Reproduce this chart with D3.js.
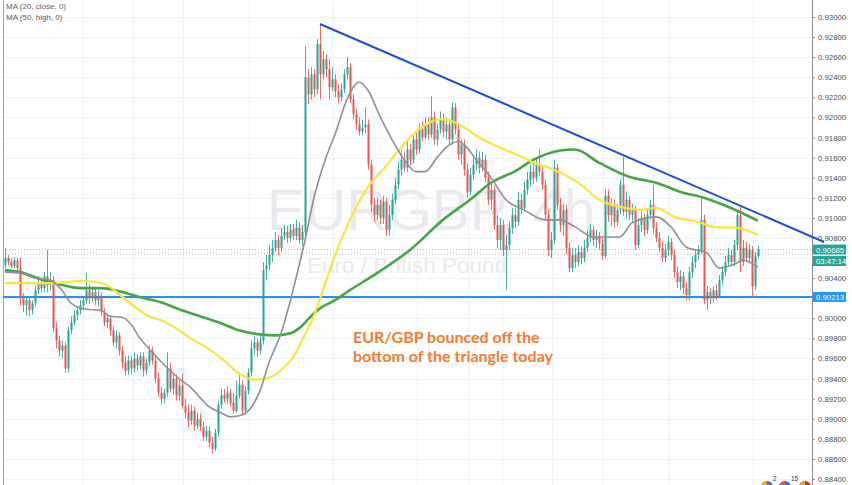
<!DOCTYPE html>
<html><head><meta charset="utf-8">
<script src="https://cdn.jsdelivr.net/npm/d3@7/dist/d3.min.js"></script>
<style>html,body{margin:0;padding:0;background:#fff;overflow:hidden}</style>
</head><body><svg id="c" width="852" height="485"></svg>
<script>
// ---- DATA (EUR/GBP 4h) ----
const opens=[.9053,.9060,.9056,.9052,.9058,.9050,.9020,.9013,.9018,.9008,.9015,.9028,.9036,.9030,.9042,.9033,.9038,.8990,.8978,.8968,.8973,.8950,.8988,.8996,.9003,.9008,.9013,.9018,.9028,.9020,.9026,.9018,.9022,.9006,.8996,.9000,.8988,.8976,.8983,.8968,.8956,.8948,.8958,.8950,.8960,.8953,.8962,.8948,.8956,.8968,.8958,.8940,.8926,.8920,.8926,.8950,.8930,.8940,.8923,.8933,.8913,.8906,.8898,.8908,.8893,.8900,.8892,.8882,.8888,.8876,.8870,.8886,.8914,.8924,.8920,.8926,.8916,.8908,.8923,.8934,.8908,.8928,.8946,.8970,.8976,.8968,.8978,.9048,.9053,.9063,.9070,.9078,.9070,.9082,.9086,.9080,.9088,.9082,.9090,.9078,.9086,.9240,.9223,.9243,.9228,.9273,.9243,.9258,.9248,.9230,.9238,.9226,.9220,.9228,.9243,.9250,.9218,.9203,.9193,.9186,.9190,.9193,.9153,.9113,.9103,.9113,.9100,.9116,.9088,.9103,.9118,.9133,.9148,.9158,.9150,.9168,.9158,.9178,.9168,.9188,.9180,.9193,.9183,.9200,.9178,.9188,.9198,.9186,.9193,.9178,.9210,.9188,.9163,.9173,.9148,.9126,.9143,.9153,.9160,.9150,.9158,.9140,.9118,.9128,.9093,.9078,.9093,.9068,.9073,.9090,.9103,.9096,.9118,.9110,.9128,.9138,.9146,.9140,.9153,.9146,.9133,.9103,.9068,.9078,.9150,.9113,.9093,.9108,.9070,.9050,.9063,.9056,.9066,.9060,.9070,.9080,.9088,.9078,.9082,.9074,.9062,.9122,.9103,.9113,.9096,.9108,.9133,.9106,.9118,.9103,.9108,.9073,.9093,.9100,.9088,.9103,.9113,.9090,.9080,.9070,.9060,.9068,.9076,.9063,.9046,.9036,.9042,.9030,.9023,.9046,.9056,.9063,.9068,.9098,.9018,.9026,.9020,.9028,.9022,.9038,.9046,.9056,.9063,.9056,.9073,.9103,.9056,.9070,.9060,.9068,.9032,.9062];
const highs=[.9070,.9063,.9060,.9061,.9060,.9060,.9025,.9022,.9021,.9018,.9033,.9042,.9040,.9046,.9068,.9046,.9042,.8996,.8983,.8978,.8976,.8992,.9002,.9008,.9012,.9018,.9022,.9045,.9034,.9030,.9031,.9028,.9026,.9010,.9004,.9003,.8992,.8988,.8986,.8972,.8962,.8963,.8962,.8966,.8964,.8966,.8966,.8960,.8973,.8972,.8963,.8946,.8932,.8930,.8966,.8956,.8946,.8944,.8938,.8945,.8920,.8914,.8914,.8912,.8906,.8905,.8897,.8893,.8892,.8882,.8890,.8918,.8930,.8930,.8932,.8930,.8926,.8938,.8946,.8938,.8932,.8950,.8978,.8982,.8980,.8984,.9056,.9063,.9073,.9078,.9086,.9083,.9090,.9093,.9092,.9094,.9094,.9098,.9096,.9093,.9271,.9248,.9250,.9248,.9278,.9293,.9266,.9263,.9258,.9250,.9243,.9233,.9234,.9248,.9260,.9254,.9223,.9208,.9200,.9198,.9210,.9198,.9158,.9120,.9120,.9118,.9122,.9120,.9113,.9124,.9140,.9156,.9168,.9166,.9176,.9174,.9184,.9186,.9194,.9196,.9200,.9200,.9221,.9206,.9194,.9206,.9204,.9200,.9198,.9215,.9214,.9193,.9178,.9178,.9154,.9150,.9160,.9168,.9166,.9166,.9163,.9146,.9134,.9132,.9103,.9100,.9098,.9083,.9096,.9110,.9110,.9126,.9124,.9136,.9146,.9153,.9154,.9160,.9168,.9152,.9138,.9108,.9086,.9158,.9154,.9120,.9114,.9113,.9076,.9070,.9070,.9073,.9072,.9078,.9088,.9094,.9092,.9088,.9086,.9082,.9128,.9128,.9120,.9118,.9114,.9138,.9161,.9126,.9122,.9114,.9112,.9100,.9106,.9104,.9110,.9118,.9133,.9096,.9086,.9076,.9074,.9082,.9080,.9068,.9052,.9048,.9046,.9036,.9051,.9062,.9068,.9073,.9121,.9103,.9032,.9030,.9032,.9034,.9043,.9052,.9062,.9070,.9068,.9078,.9108,.9111,.9078,.9076,.9074,.9072,.9066,.9072];
const lows=[.9050,.9053,.9050,.9050,.9046,.9013,.9006,.9003,.9002,.9004,.9012,.9024,.9026,.9026,.9026,.9028,.8986,.8970,.8962,.8960,.8946,.8946,.8984,.8993,.8998,.9004,.9008,.9014,.9014,.9016,.9013,.9012,.9002,.8992,.8990,.8983,.8972,.8970,.8963,.8950,.8943,.8944,.8944,.8946,.8948,.8949,.8942,.8944,.8952,.8954,.8936,.8922,.8914,.8915,.8922,.8926,.8924,.8918,.8918,.8910,.8900,.8892,.8894,.8888,.8890,.8888,.8878,.8878,.8872,.8865,.8868,.8882,.8910,.8916,.8914,.8912,.8905,.8906,.8920,.8904,.8904,.8924,.8942,.8964,.8962,.8964,.8974,.9038,.9048,.9056,.9066,.9063,.9066,.9078,.9075,.9076,.9078,.9078,.9074,.9072,.9082,.9213,.9218,.9220,.9223,.9218,.9238,.9240,.9218,.9226,.9220,.9214,.9216,.9224,.9238,.9214,.9198,.9188,.9182,.9182,.9184,.9148,.9106,.9096,.9098,.9094,.9094,.9082,.9082,.9098,.9114,.9128,.9142,.9146,.9146,.9152,.9154,.9163,.9164,.9176,.9178,.9178,.9180,.9173,.9172,.9184,.9180,.9178,.9172,.9173,.9183,.9158,.9153,.9142,.9120,.9122,.9138,.9148,.9144,.9146,.9135,.9113,.9108,.9088,.9070,.9068,.9062,.9028,.9068,.9084,.9090,.9092,.9104,.9106,.9123,.9132,.9134,.9136,.9142,.9128,.9098,.9062,.9060,.9074,.9108,.9086,.9082,.9064,.9046,.9046,.9050,.9052,.9054,.9056,.9066,.9076,.9072,.9070,.9068,.9058,.9060,.9096,.9092,.9090,.9092,.9104,.9102,.9100,.9098,.9096,.9068,.9070,.9086,.9082,.9084,.9098,.9084,.9076,.9066,.9056,.9056,.9062,.9058,.9040,.9030,.9028,.9024,.9018,.9018,.9040,.9050,.9058,.9064,.9014,.9008,.9014,.9016,.9018,.9020,.9033,.9042,.9052,.9052,.9052,.9068,.9046,.9052,.9056,.9056,.9021,.9028,.9060];
const closes=[.9060,.9056,.9052,.9058,.9050,.9020,.9013,.9018,.9008,.9015,.9028,.9036,.9030,.9042,.9033,.9038,.8990,.8978,.8968,.8973,.8950,.8988,.8996,.9003,.9008,.9013,.9018,.9028,.9020,.9026,.9018,.9022,.9006,.8996,.9000,.8988,.8976,.8983,.8968,.8956,.8948,.8958,.8950,.8960,.8953,.8962,.8948,.8956,.8968,.8958,.8940,.8926,.8920,.8926,.8950,.8930,.8940,.8923,.8933,.8913,.8906,.8898,.8908,.8893,.8900,.8892,.8882,.8888,.8876,.8870,.8886,.8914,.8924,.8920,.8926,.8916,.8908,.8923,.8934,.8908,.8928,.8946,.8970,.8976,.8968,.8978,.9048,.9053,.9063,.9070,.9078,.9070,.9082,.9086,.9080,.9088,.9082,.9090,.9078,.9086,.9240,.9223,.9243,.9228,.9273,.9243,.9258,.9248,.9230,.9238,.9226,.9220,.9228,.9243,.9250,.9218,.9203,.9193,.9186,.9190,.9193,.9153,.9113,.9103,.9113,.9100,.9116,.9088,.9103,.9118,.9133,.9148,.9158,.9150,.9168,.9158,.9178,.9168,.9188,.9180,.9193,.9183,.9200,.9178,.9188,.9198,.9186,.9193,.9178,.9210,.9188,.9163,.9173,.9148,.9126,.9143,.9153,.9160,.9150,.9158,.9140,.9118,.9128,.9093,.9078,.9093,.9068,.9073,.9090,.9103,.9096,.9118,.9110,.9128,.9138,.9146,.9140,.9153,.9146,.9133,.9103,.9068,.9078,.9150,.9113,.9093,.9108,.9070,.9050,.9063,.9056,.9066,.9060,.9070,.9080,.9088,.9078,.9082,.9074,.9062,.9122,.9103,.9113,.9096,.9108,.9133,.9106,.9118,.9103,.9108,.9073,.9093,.9100,.9088,.9103,.9113,.9090,.9080,.9070,.9060,.9068,.9076,.9063,.9046,.9036,.9042,.9030,.9023,.9046,.9056,.9063,.9068,.9098,.9018,.9026,.9020,.9028,.9022,.9038,.9046,.9056,.9063,.9056,.9073,.9103,.9056,.9070,.9060,.9068,.9032,.9062,.90685];

// moving averages: [bar index, value]
const ma20Close=[[0,.9046],[5,.9045],[10,.9040],[15,.9038],[19,.9028],[22,.9015],[27,.9009],[32,.9008],[35,.9002],[39,.9001],[42,.8994],[45,.8980],[48,.8970],[51,.8960],[55,.8948],[58,.8940],[62,.8931],[65,.8921],[68,.8912],[72,.8906],[75,.8902],[78,.8903],[82,.8911],[85,.8928],[88,.8956],[92,.8985],[96,.9028],[100,.9078],[103,.9120],[107,.9160],[110,.9183],[114,.9218],[118,.9235],[121,.9227],[125,.9201],[129,.9178],[133,.9158],[137,.9146],[140,.9146],[144,.9160],[147,.9170],[151,.9176],[154,.9170],[157,.9158],[162,.9140],[167,.9118],[173,.9108],[180,.9098],[185,.9098],[190,.9091],[196,.9081],[205,.9081],[209,.9095],[217,.9101],[222,.9091],[227,.9071],[234,.9065],[238,.9050],[244,.9055],[246,.9058],[248,.9056],[251,.9051]];
const ma50High=[[0,.9035],[8,.9035],[15,.9035],[25,.9037],[32,.9035],[35,.9031],[38,.9024],[43,.9012],[48,.9002],[52,.8998],[57,.8990],[63,.8978],[66,.8973],[73,.8958],[78,.8945],[83,.8939],[87,.8940],[93,.8951],[96,.8961],[99,.8978],[103,.9003],[106,.9028],[110,.9063],[115,.9098],[122,.9135],[126,.9148],[132,.9170],[138,.9188],[145,.9198],[148,.9197],[152,.9192],[158,.9180],[165,.9170],[172,.9161],[178,.9153],[183,.9148],[192,.9133],[198,.9118],[205,.9111],[212,.9108],[217,.9110],[223,.9101],[231,.9096],[236,.9091],[244,.9090],[251,.9083]];
const ma100=[[0,.9048],[5,.9046],[12,.9039],[18,.9034],[25,.9030],[32,.9030],[38,.9027],[45,.9021],[52,.9016],[58,.9009],[65,.9002],[72,.8995],[78,.8988],[85,.8984],[90,.8983],[95,.8985],[98,.8990],[102,.9002],[105,.9010],[110,.9018],[115,.9028],[124,.9045],[135,.9068],[146,.9098],[155,.9118],[162,.9135],[171,.9148],[175,.9156],[180,.9163],[185,.9167],[190,.9168],[198,.9155],[208,.9141],[217,.9135],[225,.9126],[233,.9120],[241,.9111],[251,.9097]];

const trendLine=[[105,.9293],[273,.9076]];
const supportLevel=.90213;
const lastPrice=.90685;
const prevClose=.9064;
const countdown="03:47:14";
const priceTicks=[.884,.886,.888,.890,.892,.894,.896,.898,.900,.902,.904,.906,.908,.910,.912,.914,.916,.918,.920,.922,.924,.926,.928,.930];
const gridBars=[26,42.7,59.3,81.3,109.3,137.3,154.3,165.7,182.3,199.3,221.3,249.3];
const legendLines=["MA (20, close, 0)","MA (50, high, 0)"];
const symbolText="EURGBP, 4h";
const descText="Euro / British Pound";
const noteLines=["EUR/GBP bounced off the","bottom of the triangle today"];

// ---- DRAW ----
const W=852,H=485,axisX=812;
const svg=d3.select('#c');
const x=d3.scaleLinear().domain([0,251]).range([5,758]);
const y=d3.scaleLinear().domain([0.884,0.930]).range([479,17]);
const up='#26a69a',down='#ef5350';

// grid
const g=svg.append('g');
g.selectAll('line.h').data(priceTicks).join('line')
 .attr('x1',3).attr('x2',axisX).attr('y1',d=>Math.round(y(d))+.5).attr('y2',d=>Math.round(y(d))+.5)
 .attr('stroke','#eef1f6').attr('stroke-width',1);
g.selectAll('line.v').data(gridBars).join('line')
 .attr('x1',d=>Math.round(x(d))+.5).attr('x2',d=>Math.round(x(d))+.5).attr('y1',0).attr('y2',H)
 .attr('stroke','#eef1f6').attr('stroke-width',1);

// watermark
svg.append('text').attr('x',267).attr('y',230).text(symbolText)
 .attr('font-family','Liberation Sans, Arial, sans-serif').attr('font-size',57).attr('fill','#e9eaed');
svg.append('text').attr('x',407).attr('y',273).attr('text-anchor','middle').text(descText)
 .attr('font-family','Liberation Sans, Arial, sans-serif').attr('font-size',22.5).attr('fill','#e9eaed');

// left border
svg.append('line').attr('x1',3.5).attr('x2',3.5).attr('y1',0).attr('y2',H).attr('stroke','#a3a6ae').attr('stroke-width',1);

// dotted price lines
svg.append('line').attr('x1',3).attr('x2',axisX).attr('y1',y(lastPrice)).attr('y2',y(lastPrice))
 .attr('stroke','#7fc8c0').attr('stroke-dasharray','1,2').attr('stroke-width',1);
svg.append('line').attr('x1',3).attr('x2',axisX).attr('y1',y(prevClose)).attr('y2',y(prevClose))
 .attr('stroke','#b5b8bf').attr('stroke-dasharray','1,2').attr('stroke-width',1);

// support line
svg.append('line').attr('x1',3).attr('x2',axisX).attr('y1',y(supportLevel)).attr('y2',y(supportLevel))
 .attr('stroke','#2a8ff0').attr('stroke-width',2);

// candles
const idx=d3.range(opens.length);
const cg=svg.append('g');
cg.selectAll('line').data(idx).join('line')
 .attr('x1',i=>Math.round(x(i))+.5).attr('x2',i=>Math.round(x(i))+.5)
 .attr('y1',i=>y(highs[i])).attr('y2',i=>y(lows[i]))
 .attr('stroke',i=>closes[i]>=opens[i]?up:down).attr('stroke-width',1).attr('opacity',.85);
cg.selectAll('rect').data(idx).join('rect')
 .attr('x',i=>Math.round(x(i))-0.5).attr('width',2)
 .attr('y',i=>y(Math.max(opens[i],closes[i])))
 .attr('height',i=>Math.max(1,Math.abs(y(opens[i])-y(closes[i]))))
 .attr('fill',i=>closes[i]>=opens[i]?up:down);

// moving averages
const ln=d3.line().x(d=>x(d[0])).y(d=>y(d[1])).curve(d3.curveMonotoneX);
svg.append('path').attr('d',ln(ma100)).attr('fill','none').attr('stroke','#43a843').attr('stroke-width',2.6);
svg.append('path').attr('d',ln(ma50High)).attr('fill','none').attr('stroke','#f9e53d').attr('stroke-width',2.2);
svg.append('path').attr('d',ln(ma20Close)).attr('fill','none').attr('stroke','#8f8f98').attr('stroke-width',1.6);

// annotation
noteLines.forEach((t,k)=>svg.append('text').attr('x',353).attr('y',343+k*18.5).text(t)
 .attr('font-family','Lato, "Open Sans", sans-serif').attr('font-weight',700).attr('font-size',16).attr('fill','#f47b2e'));

// legend
legendLines.forEach((t,k)=>svg.append('text').attr('x',6).attr('y',9+k*11).text(t)
 .attr('font-family','Liberation Sans, Arial, sans-serif').attr('font-size',8).attr('fill','#5d606b'));

// axis
svg.append('rect').attr('x',axisX).attr('y',0).attr('width',W-axisX).attr('height',H).attr('fill','#fff');
const tagYs=[y(lastPrice),y(lastPrice)+11.5,y(supportLevel)];
const ax=svg.append('g').attr('transform',`translate(${axisX},0)`)
 .call(d3.axisRight(y).tickValues(priceTicks).tickFormat(d3.format('.5f')).tickSize(3).tickPadding(3));
ax.select('.domain').remove();
ax.selectAll('.tick line').attr('stroke','#8a8d96');
ax.selectAll('.tick text').attr('fill','#4a4d57').attr('font-size',7.8).attr('font-family','Liberation Sans, Arial, sans-serif')
 .style('display',d=>tagYs.some(t=>Math.abs(t-y(d))<9)?'none':null);
svg.append('line').attr('x1',axisX+.5).attr('x2',axisX+.5).attr('y1',0).attr('y2',H).attr('stroke','#8a8d96');

// price tags
function tag(v,txt,col,dy){
  const cy=y(v)+dy;
  svg.append('rect').attr('x',axisX+1).attr('y',cy-5).attr('width',33).attr('height',10).attr('fill',col);
  svg.append('text').attr('x',axisX+4).attr('y',cy+3).text(txt).attr('fill','#fff')
   .attr('font-size',7.8).attr('font-family','Liberation Sans, Arial, sans-serif');
}
tag(lastPrice,d3.format('.5f')(lastPrice),'#26a69a',0);
tag(lastPrice,countdown,'#26a69a',11.5);
tag(supportLevel,d3.format('.5f')(supportLevel),'#2196f3',0);

// trend line (drawn over the axis, as in the picture)
svg.append('line').attr('x1',x(trendLine[0][0])).attr('y1',y(trendLine[0][1]))
 .attr('x2',x(trendLine[1][0])).attr('y2',y(trendLine[1][1]))
 .attr('stroke','#1c4fd6').attr('stroke-width',2);

// event icons bottom right
const ev=[{cx:767,c1:'#f5a623',c2:'#3f6ad8',n:'2'},{cx:785,c1:'#e84d6b',c2:'#3f6ad8',n:'15'},{cx:805,c1:'#f5a623',c2:'#c0392b',n:''}];
ev.forEach(e=>{
  svg.append('circle').attr('cx',e.cx).attr('cy',487).attr('r',6).attr('fill',e.c2);
  svg.append('path').attr('d',`M${e.cx-6},487 A6,6 0 0 1 ${e.cx},481 L${e.cx},487 Z`).attr('fill',e.c1);
  if(e.n) svg.append('text').attr('x',e.cx+6).attr('y',481).text(e.n).attr('font-size',6.5).attr('fill','#333').attr('font-family','Liberation Sans, Arial');
});
</script></body></html>
